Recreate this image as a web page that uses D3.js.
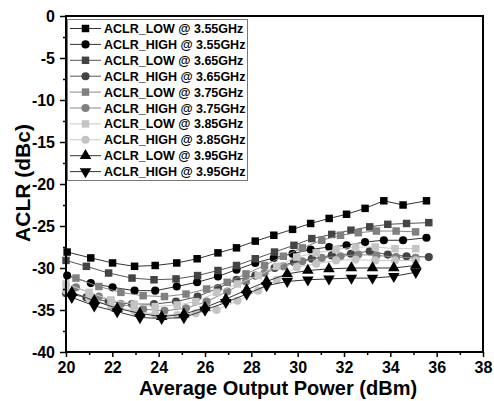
<!DOCTYPE html>
<html>
<head>
<meta charset="utf-8">
<script src="https://cdn.jsdelivr.net/npm/d3@7"></script>
<style>
  body { margin: 0; background: #fff; }
  text { font-family: "Liberation Sans", Arial, sans-serif; font-weight: bold; }
</style>
</head>
<body>
<svg id="chart"></svg>
<script>
// output power (dBm) per carrier frequency, ACLR (dBc) per series
const power355 = [20.05, 21.07, 22.01, 22.96, 23.85, 24.78, 25.66, 26.56, 27.36, 28.17, 28.97, 29.78, 30.56, 31.36, 32.11, 32.91, 33.72, 34.55, 35.56];
const low355 = [-28.1, -28.8, -29.4, -29.8, -29.7, -29.4, -28.9, -28.2, -27.6, -26.8, -26.1, -25.4, -24.7, -24.1, -23.6, -22.9, -22.0, -22.5, -22.0];
const high355 = [-30.9, -31.8, -32.3, -32.7, -32.7, -32.2, -31.7, -31.0, -30.2, -29.4, -28.8, -28.3, -27.8, -27.5, -27.3, -26.9, -26.7, -26.7, -26.4];

const power365 = [20.0, 20.88, 21.84, 22.85, 23.80, 24.75, 25.68, 26.56, 27.36, 28.17, 29.0, 29.84, 30.61, 31.47, 32.30, 33.11, 33.89, 34.70, 35.66];
const low365 = [-29.1, -29.8, -30.6, -31.2, -31.4, -31.3, -30.9, -30.3, -29.7, -28.9, -28.1, -27.3, -26.5, -26.0, -25.5, -25.1, -24.8, -24.7, -24.6];
const high365 = [-33.0, -33.5, -34.0, -34.3, -34.3, -34.0, -33.4, -32.4, -31.4, -30.9, -30.0, -29.3, -28.9, -28.5, -28.3, -28.0, -28.4, -28.6, -28.7];

const power375 = [20.43, 21.42, 22.37, 23.33, 24.25, 25.18, 26.07, 26.96, 27.77, 28.57, 29.38, 30.2, 31.04, 31.85, 32.62, 33.40, 34.25, 35.09];
const low375 = [-31.2, -32.2, -32.9, -33.3, -33.4, -33.1, -32.5, -31.7, -30.7, -29.7, -28.6, -27.6, -26.7, -26.1, -25.8, -25.6, -25.6, -25.7];
const high375 = [-32.3, -33.4, -34.3, -34.9, -35.1, -34.8, -34.0, -32.8, -31.6, -30.6, -29.8, -29.2, -28.8, -28.6, -28.4, -28.5, -28.7, -28.8];

const power385 = [20.0, 21.0, 21.94, 22.94, 23.85, 24.8, 25.6, 26.5, 27.4, 28.3, 29.1, 29.96, 30.8, 31.66, 32.5, 33.35, 34.2, 35.1];
const low385 = [-31.9, -32.9, -33.8, -34.3, -34.6, -34.4, -34.0, -32.9, -31.9, -30.9, -29.8, -28.7, -28.2, -27.8, -27.5, -27.5, -27.7, -27.7];
const high385 = [-32.7, -33.6, -34.5, -35.1, -35.5, -35.6, -35.4, -35.0, -33.9, -32.7, -31.4, -29.9, -29.5, -29.1, -29.0, -29.1, -29.1, -29.1];

const power395 = [20.25, 21.22, 22.21, 23.19, 24.13, 25.09, 26.0, 26.9, 27.8, 28.66, 29.55, 30.44, 31.35, 32.32, 33.23, 34.15, 35.10];
const low395 = [-32.9, -33.9, -34.8, -35.4, -35.8, -35.5, -34.7, -33.7, -32.6, -31.6, -30.7, -30.3, -30.1, -30.0, -30.0, -30.0, -29.7];
const high395 = [-33.5, -34.5, -35.2, -35.9, -36.0, -35.9, -35.0, -34.1, -33.1, -32.1, -31.6, -31.4, -31.3, -31.2, -31.2, -31.0, -30.5];

const seriesNames = ["ACLR_LOW @ 3.55GHz", "ACLR_HIGH @ 3.55GHz", "ACLR_LOW @ 3.65GHz", "ACLR_HIGH @ 3.65GHz",
  "ACLR_LOW @ 3.75GHz", "ACLR_HIGH @ 3.75GHz", "ACLR_LOW @ 3.85GHz", "ACLR_HIGH @ 3.85GHz",
  "ACLR_LOW @ 3.95GHz", "ACLR_HIGH @ 3.95GHz"];
const xTicks = [20, 22, 24, 26, 28, 30, 32, 34, 36, 38];
const yTicks = [0, -5, -10, -15, -20, -25, -30, -35, -40];

const width = 494, height = 401;
const margin = { top: 16, right: 11, bottom: 49, left: 66 };

const series = [
  { name: seriesNames[0], x: power355, y: low355, color: "#000000", line: "#333333", shape: "square" },
  { name: seriesNames[1], x: power355, y: high355, color: "#000000", line: "#333333", shape: "circle" },
  { name: seriesNames[2], x: power365, y: low365, color: "#444444", line: "#555555", shape: "square" },
  { name: seriesNames[3], x: power365, y: high365, color: "#444444", line: "#555555", shape: "circle" },
  { name: seriesNames[4], x: power375, y: low375, color: "#808080", line: "#888888", shape: "square" },
  { name: seriesNames[5], x: power375, y: high375, color: "#808080", line: "#888888", shape: "circle" },
  { name: seriesNames[6], x: power385, y: low385, color: "#c4c4c4", line: "#c8c8c8", shape: "square" },
  { name: seriesNames[7], x: power385, y: high385, color: "#c4c4c4", line: "#c8c8c8", shape: "circle" },
  { name: seriesNames[8], x: power395, y: low395, color: "#000000", line: "#333333", shape: "up" },
  { name: seriesNames[9], x: power395, y: high395, color: "#000000", line: "#333333", shape: "down" }
];

const svg = d3.select("#chart").attr("width", width).attr("height", height);

const xScale = d3.scaleLinear().domain([20, 38]).range([margin.left, width - margin.right]);
const yScale = d3.scaleLinear().domain([-40, 0]).range([height - margin.bottom, margin.top]);

// symbol path per marker shape
function symbolPath(shape) {
  if (shape === "square") return d3.symbol().type(d3.symbolSquare).size(56)();
  if (shape === "circle") return d3.symbol().type(d3.symbolCircle).size(52)();
  return d3.symbol().type(d3.symbolTriangle).size(58)();
}
function symbolTransform(shape, px, py) {
  if (shape === "down") return `translate(${px},${py}) rotate(180)`;
  return `translate(${px},${py})`;
}

// lines and markers
const line = d3.line().x(d => xScale(d[0])).y(d => yScale(d[1]));
series.forEach(s => {
  const pts = s.x.map((v, i) => [v, s.y[i]]);
  svg.append("path")
    .attr("d", line(pts))
    .attr("fill", "none")
    .attr("stroke", s.line)
    .attr("stroke-width", 1);
  svg.append("g").selectAll("path")
    .data(pts)
    .enter()
    .append("path")
    .attr("d", symbolPath(s.shape))
    .attr("transform", d => symbolTransform(s.shape, xScale(d[0]), yScale(d[1])))
    .attr("fill", s.color);
});

// axes
const gx = svg.append("g").attr("transform", `translate(0,${height - margin.bottom})`);
gx.call(d3.axisBottom(xScale).tickValues(d3.range(20, 38.5, 1)).tickSize(0).tickFormat(""));
gx.select(".domain").remove();
gx.selectAll(".tick").append("line")
  .attr("y2", d => (d % 2 === 0 ? 5 : 3))
  .attr("stroke", "#000").attr("stroke-width", 1.5);
gx.selectAll(".tick").filter(d => xTicks.includes(d)).append("text")
  .attr("y", 21).attr("text-anchor", "middle")
  .attr("font-size", 16).attr("fill", "#000")
  .text(d => d);

const gy = svg.append("g").attr("transform", `translate(${margin.left},0)`);
gy.call(d3.axisLeft(yScale).tickValues(d3.range(-40, 0.1, 2.5)).tickSize(0).tickFormat(""));
gy.select(".domain").remove();
gy.selectAll(".tick").append("line")
  .attr("x2", d => (d % 5 === 0 ? -6 : -3))
  .attr("stroke", "#000").attr("stroke-width", 1.5);
gy.selectAll(".tick").filter(d => yTicks.includes(d)).append("text")
  .attr("x", -11).attr("dy", "0.35em").attr("text-anchor", "end")
  .attr("font-size", 16).attr("fill", "#000")
  .text(d => d);

// frame
svg.append("rect")
  .attr("x", margin.left).attr("y", margin.top)
  .attr("width", width - margin.left - margin.right)
  .attr("height", height - margin.top - margin.bottom)
  .attr("fill", "none").attr("stroke", "#000").attr("stroke-width", 2);

// axis titles
svg.append("text")
  .attr("x", 278).attr("y", 395)
  .attr("text-anchor", "middle").attr("font-size", 20)
  .text("Average Output Power (dBm)");
svg.append("text")
  .attr("transform", "translate(30,183) rotate(-90)")
  .attr("text-anchor", "middle").attr("font-size", 21)
  .text("ACLR (dBc)");

// legend
const legend = svg.append("g");
legend.append("rect")
  .attr("x", 67.5).attr("y", 19.5).attr("width", 180).attr("height", 161)
  .attr("fill", "#fff").attr("stroke", "#777").attr("stroke-width", 1);
series.forEach((s, i) => {
  const ly = 28.5 + i * 15.9;
  legend.append("line")
    .attr("x1", 70).attr("x2", 101).attr("y1", ly).attr("y2", ly)
    .attr("stroke", s.line).attr("stroke-width", 1);
  legend.append("path")
    .attr("d", symbolPath(s.shape))
    .attr("transform", symbolTransform(s.shape, 85.5, ly))
    .attr("fill", s.color);
  legend.append("text")
    .attr("x", 104).attr("y", ly).attr("dy", "0.36em")
    .attr("font-size", 12.5).attr("fill", "#000")
    .text(s.name);
});
</script>
</body>
</html>
